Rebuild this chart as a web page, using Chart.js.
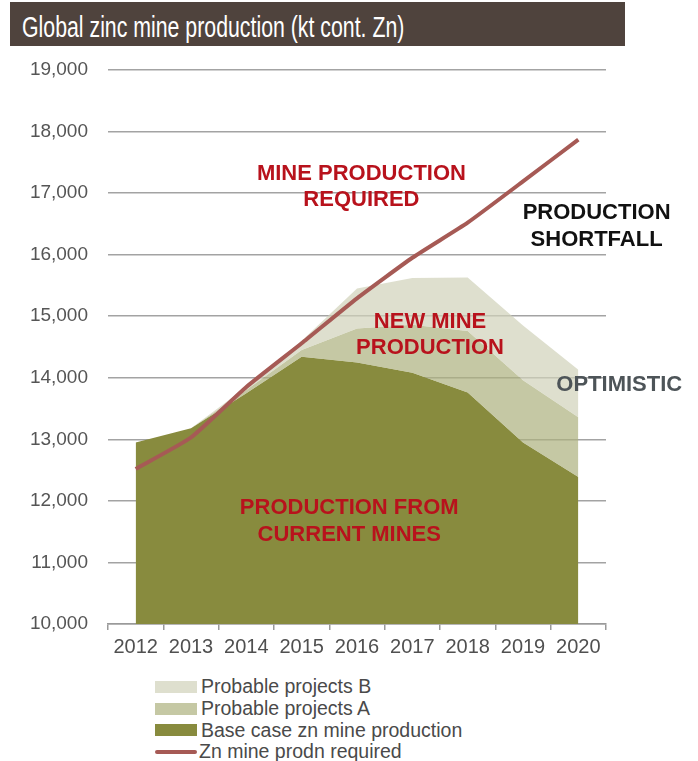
<!DOCTYPE html>
<html>
<head>
<meta charset="utf-8">
<script src="https://cdn.jsdelivr.net/npm/chart.js@4"></script>
<style>
  body { margin: 0; background: #fff; font-family: "Liberation Sans", Arial, sans-serif; }
  #wrap { position: relative; width: 698px; height: 761px; overflow: hidden; }
  #title { position: absolute; left: 10px; top: 2px; width: 615px; height: 44px; background: #4f433d; overflow: hidden; }
  #title span { position: absolute; left: 12px; top: 3px; line-height: 44px; font-size: 30px; color: #fff;
                white-space: nowrap; transform: scaleX(0.71); transform-origin: left center; }
  #box { position: absolute; left: 0; top: 50px; width: 698px; height: 614px; }
  #legend { position: absolute; left: 155px; top: 676px; }
  .row { height: 21.7px; display: flex; align-items: center; font-size: 19.5px; color: #4a4a4a; }
  .sw { width: 42px; height: 12px; margin-right: 4px; }
  .ln { width: 42px; height: 4px; border-radius: 2px; margin-right: 2px; }
</style>
</head>
<body>
<div id="wrap">
  <div id="title"><span>Global zinc mine production (kt cont. Zn)</span></div>
  <div id="box"><canvas id="zinc-chart"></canvas></div>
  <div id="legend"></div>
</div>
<script>
// values (kt), stacked tops for the project areas
const years = ['2012', '2013', '2014', '2015', '2016', '2017', '2018', '2019', '2020'];
const baseCase  = [12950, 13180, 13750, 14340, 14250, 14080, 13760, 12950, 12390];
const probableA = [12950, 13180, 13800, 14450, 14800, 14860, 14760, 13960, 13360];
const probableB = [12950, 13180, 13850, 14600, 15450, 15620, 15630, 14850, 14130];
const required  = [12520, 13030, 13850, 14560, 15290, 15950, 16520, 17190, 17870];
const yTicks = [10000, 11000, 12000, 13000, 14000, 15000, 16000, 17000, 18000, 19000];

// text notes on the plot, placed in data units (category index, kt)
const notes = [
    { lines: ['MINE PRODUCTION', 'REQUIRED'], x: 4.08, y: 17100, color: '#b8121c' },
    { lines: ['PRODUCTION', 'SHORTFALL'], x: 8.33, y: 16460, color: '#111111' },
    { lines: ['NEW MINE', 'PRODUCTION'], x: 5.32, y: 14700, color: '#b8121c' },
    { lines: ['OPTIMISTIC'], x: 8.74, y: 13880, color: '#4d5458' },
    { lines: ['PRODUCTION FROM', 'CURRENT MINES'], x: 3.86, y: 11665, color: '#b8121c' },
];

const notePlugin = {
    id: 'notes',
    afterDatasetsDraw(chart) {
        const ctx = chart.ctx;
        const xs = chart.scales.x, ys = chart.scales.y;
        ctx.save();
        ctx.font = 'bold 22px "Liberation Sans", Arial, sans-serif';
        ctx.textAlign = 'center';
        ctx.textBaseline = 'middle';
        notes.forEach((n) => {
            const px = xs.getPixelForValue(n.x);
            const py = ys.getPixelForValue(n.y);
            const lh = 26.5;
            const top = py - (n.lines.length - 1) * lh / 2;
            ctx.fillStyle = n.color;
            n.lines.forEach((t, i) => ctx.fillText(t, px, top + i * lh));
        });
        ctx.restore();
    }
};

function drawchart(){
    const data = {
        labels: years,
        datasets: [
            {
                label: 'Probable projects B',
                data: probableB,
                backgroundColor: 'rgba(208,209,185,0.7)',
                borderColor: 'transparent',
                borderWidth: 0,
                pointRadius: 0,
                fill: 1,
            },
            {
                label: 'Probable projects A',
                data: probableA,
                backgroundColor: 'rgba(172,176,126,0.7)',
                borderColor: 'transparent',
                borderWidth: 0,
                pointRadius: 0,
                fill: 2,
            },
            {
                label: 'Base case zn mine production',
                data: baseCase,
                backgroundColor: '#888b3e',
                borderColor: 'transparent',
                borderWidth: 0,
                pointRadius: 0,
                fill: 'start',
            },
            {
                label: 'Zn mine prodn required',
                data: required,
                borderColor: '#a65a55',
                backgroundColor: '#a65a55',
                borderWidth: 4,
                pointRadius: 0,
                tension: 0.15,
                fill: false,
                order: -1,
            },
        ]
    };

    const config = {
        type: 'line',
        data: data,
        options: {
            responsive: true,
            maintainAspectRatio: false,
            animation: false,
            layout: { padding: { left: 0, right: 92, top: 20, bottom: 0 } },
            plugins: {
                legend: { display: false },
                title: { display: false },
                tooltip: { enabled: false },
            },
            scales: {
                x: {
                    offset: true,
                    grid: { offset: true, drawOnChartArea: false, drawTicks: true, tickLength: 6, color: '#9a9a9a', lineWidth: 1.5 },
                    border: { display: true, color: '#9a9a9a', width: 1.5 },
                    ticks: { color: '#505050', padding: 5, font: { size: 20, family: '"Liberation Sans", Arial, sans-serif' } },
                    afterFit: (s) => { s.height = 40; },
                },
                y: {
                    min: 10000,
                    max: 19000,
                    afterBuildTicks: (s) => { s.ticks = yTicks.map((v) => ({ value: v })); },
                    grid: { drawTicks: true, tickLength: 20, tickColor: 'transparent', color: '#a3a3a3', lineWidth: 1.5 },
                    border: { display: false },
                    ticks: {
                        color: '#555555',
                        padding: 0,
                        font: { size: 19, family: '"Liberation Sans", Arial, sans-serif' },
                        callback: (v) => Number(v).toLocaleString('en-US'),
                    },
                    afterFit: (s) => { s.width = 108; },
                },
            },
        },
        plugins: [notePlugin],
    };

    const chart = new Chart(document.querySelector('#zinc-chart'), config);
    buildLegend(chart);
}

function buildLegend(chart){
    const legend = document.querySelector('#legend');
    chart.data.datasets.forEach((ds) => {
        const row = document.createElement('div');
        row.className = 'row';
        const sw = document.createElement('div');
        if (ds.fill === false) {
            sw.className = 'ln';
            sw.style.background = ds.borderColor;
        } else {
            sw.className = 'sw';
            sw.style.background = ds.backgroundColor;
        }
        const label = document.createElement('span');
        label.innerText = ds.label;
        row.appendChild(sw);
        row.appendChild(label);
        legend.appendChild(row);
    });
}

drawchart();
</script>
</body>
</html>
